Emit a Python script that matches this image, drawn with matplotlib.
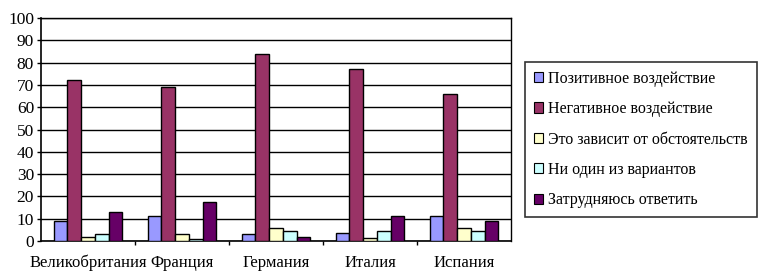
import matplotlib.pyplot as plt
import numpy as np
from matplotlib.patches import Patch

plt.rcParams['font.family'] = ['Liberation Serif', 'DejaVu Serif']

countries = ['Великобритания', 'Франция', 'Германия', 'Италия', 'Испания']
series = ['Позитивное воздействие', 'Негативное воздействие',
          'Это зависит от обстоятельств', 'Ни один из вариантов',
          'Затрудняюсь ответить']
positive = [9, 11, 3, 3.5, 11]
negative = [72, 69, 84, 77, 66]
depends = [2, 3, 6, 1.5, 6]
none_of = [3, 1, 4.5, 4.5, 4.5]
unsure = [13, 17.5, 2, 11, 9]
colors = ['#9999FF', '#993366', '#FFFFCC', '#CCFFFF', '#660066']

fig = plt.figure(figsize=(7.63, 2.72), dpi=100)
ax = fig.add_axes([41 / 763, 31 / 272, 470 / 763, 223 / 272])

x = np.arange(len(countries))
w = 0.146
for i, (vals, c) in enumerate(zip([positive, negative, depends, none_of, unsure], colors)):
    ax.bar(x + (i - 2) * w, vals, w, color=c, edgecolor='black', linewidth=1.0,
           zorder=3, label=series[i])

ax.set_xlim(-0.5, len(countries) - 0.5)
ax.set_ylim(0, 100)
ax.set_yticks(range(0, 101, 10))
ax.yaxis.grid(True, color='black', linewidth=1.0, zorder=0)
ax.set_xticks(x)
ax.set_xticklabels(countries, fontsize=12)
ax.set_xticks(np.arange(0.5, len(countries) - 0.5, 1), minor=True)
ax.tick_params(axis='x', which='major', length=0, pad=10)
ax.tick_params(axis='x', which='minor', length=3, width=1, direction='out')
ax.tick_params(axis='y', length=3, width=1, labelsize=12.5, pad=2)
for s in ['left', 'bottom']:
    ax.spines[s].set_linewidth(1.2)
for s in ['top', 'right']:
    ax.spines[s].set_linewidth(1.0)

handles = [Patch(facecolor=c, edgecolor='black', linewidth=0.8) for c in colors]
leg = fig.legend(handles, series, loc='upper left', bbox_to_anchor=(525 / 763, 1 - 62 / 272),
                 frameon=True, fancybox=False, edgecolor='black', fontsize=11.5,
                 handlelength=0.6, handleheight=0.6, handletextpad=0.3,
                 labelspacing=0.9, borderpad=0.55, borderaxespad=0)
leg.get_frame().set_linewidth(1.2)

fig.savefig('out.png', dpi=100)
